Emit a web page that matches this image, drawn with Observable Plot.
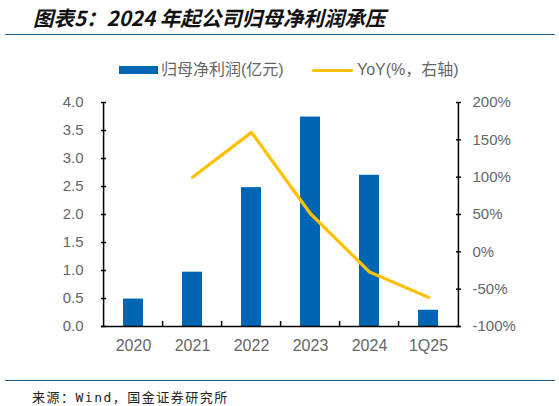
<!DOCTYPE html>
<html>
<head>
<meta charset="utf-8">
<script src="https://cdn.jsdelivr.net/npm/d3@7"></script>
<script src="https://cdn.jsdelivr.net/npm/@observablehq/plot@0.6"></script>
<style>
  html, body { margin: 0; padding: 0; background: #fff; }
  #wrap { position: relative; width: 559px; height: 406px; overflow: hidden; background: #fff; }
  #chart { position: absolute; left: 0; top: 0; }
  .title { position: absolute; left: 33px; top: 2px; font-family: "Noto Sans CJK SC", sans-serif; font-weight: bold; font-style: italic; font-size: 20.5px; line-height: 30px; color: #111; white-space: nowrap; }
  .rule { position: absolute; left: 5px; width: 550px; height: 0; border-top: 1.5px solid #245b86; }
  .legend { position: absolute; top: 59px; height: 22px; font-family: "Liberation Sans", "Noto Sans CJK SC", sans-serif; font-size: 16px; color: #666; white-space: nowrap; line-height: 22px; }
  .sw { position: absolute; }
  .footer { position: absolute; left: 32px; top: 389px; font-family: "DejaVu Sans Mono", "Noto Sans CJK SC", monospace; font-size: 13px; letter-spacing: 1.5px; color: #222; white-space: nowrap; line-height: 18px; }
</style>
</head>
<body>
<div id="wrap">
  <div class="title">图表5：2024 年起公司归母净利润承压</div>
  <div class="rule" style="top:34px"></div>
  <div class="sw" style="left:119px; top:66px; width:39px; height:8px; background:#0066B3"></div>
  <div class="legend" style="left:161px">归母净利润(亿元)</div>
  <div class="sw" style="left:312px; top:68.5px; width:41px; height:3.5px; background:#FFC000; border-radius:2px"></div>
  <div class="legend" style="left:357px">YoY(%，右轴)</div>
  <div id="chart"></div>
  <div class="rule" style="top:380px"></div>
  <div class="footer">来源：Wind，国金证券研究所</div>
</div>
<script>
const categories = ["2020", "2021", "2022", "2023", "2024", "1Q25"];
const profit = [0.49, 0.97, 2.48, 3.74, 2.70, 0.29];
const yoy = [null, 100, 160, 51, -27, -61];
const leftTicks = [0, 0.5, 1, 1.5, 2, 2.5, 3, 3.5, 4];
const rightTicks = [-100, -50, 0, 50, 100, 150, 200];

const leftDomain = [0, 4];
const rightDomain = [-100, 200];
const toLeft = v => leftDomain[0] + (v - rightDomain[0]) / (rightDomain[1] - rightDomain[0]) * (leftDomain[1] - leftDomain[0]);
const toRight = v => rightDomain[0] + (v - leftDomain[0]) / (leftDomain[1] - leftDomain[0]) * (rightDomain[1] - rightDomain[0]);

const bars = categories.map((c, i) => ({cat: c, value: profit[i]}));
const line = categories.map((c, i) => ({cat: c, value: yoy[i]})).filter(d => d.value != null);

const W = 559, H = 406, mL = 101, mR = 99, mT = 102, mB = 80;
const step = (W - mL - mR) / categories.length;

const chart = Plot.plot({
  width: W, height: H,
  marginLeft: mL, marginRight: mR, marginTop: mT, marginBottom: mB,
  x: {domain: categories, paddingInner: 0.665, paddingOuter: 0.3325, label: null},
  y: {domain: leftDomain, label: null},
  style: {fontFamily: "Liberation Sans, Arial, sans-serif", fontSize: "15px", color: "#666", background: "transparent", overflow: "visible"},
  marks: [
    Plot.barY(bars, {x: "cat", y: "value", fill: "#0066B3"}),
    Plot.line(line, {x: "cat", y: d => toLeft(d.value), stroke: "#FFC000", strokeWidth: 3.2, strokeLinejoin: "round", strokeLinecap: "round"}),
    Plot.ruleY([0], {stroke: "#000", strokeWidth: 1.5}),
    Plot.ruleX([categories[0]], {dx: -step / 2, stroke: "#000", strokeWidth: 1.5}),
    Plot.ruleX([categories[categories.length - 1]], {dx: step / 2, stroke: "#000", strokeWidth: 1.5}),
    Plot.ruleX(categories.slice(1), {dx: -step / 2, y1: 0, y2: 0.09, stroke: "#000", strokeWidth: 1.5}),
    Plot.axisY(leftTicks, {anchor: "left", tickFormat: d => d.toFixed(1), tickSize: -5, tickPadding: 23, stroke: "#000", strokeWidth: 1.5, fill: "#666", fontSize: 15, label: null}),
    Plot.axisY(rightTicks.map(toLeft), {anchor: "right", tickFormat: d => Math.round(toRight(d)) + "%", tickSize: -5, tickPadding: 17, stroke: "#000", strokeWidth: 1.5, fill: "#666", fontSize: 15, label: null}),
    Plot.axisX({tickSize: 0, tickPadding: 13, fill: "#666", fontSize: 16, label: null})
  ]
});
document.getElementById("chart").appendChild(chart);
</script>
</body>
</html>
